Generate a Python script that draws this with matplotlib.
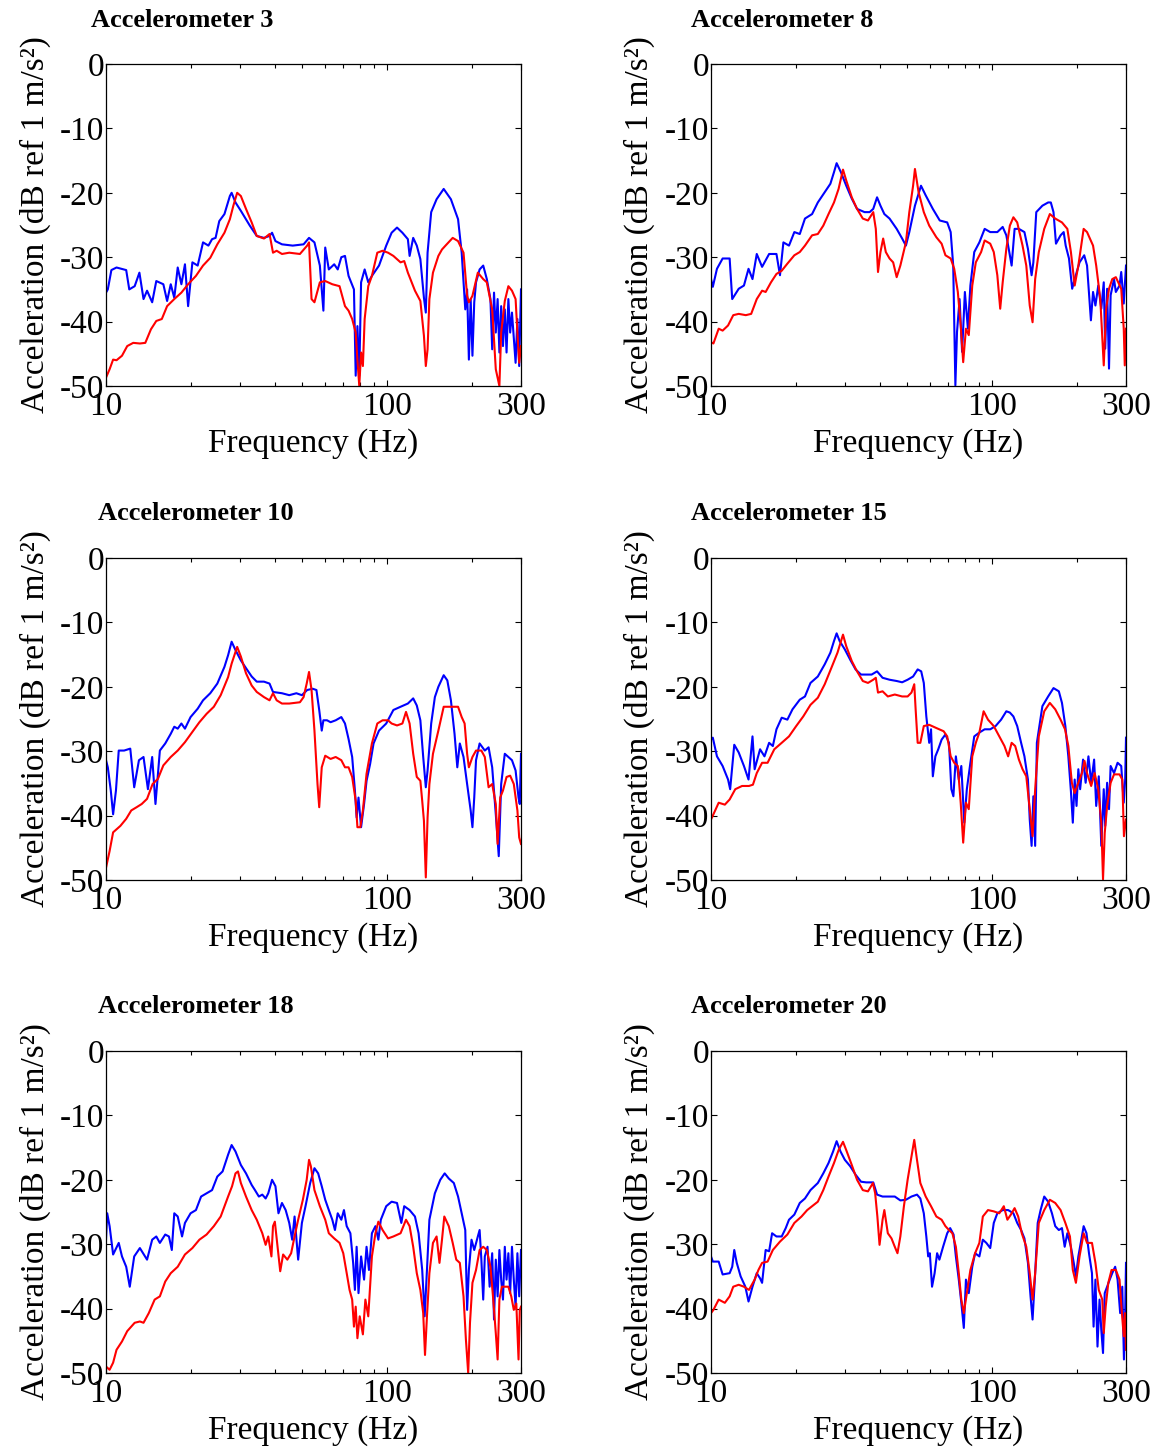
import numpy as np
import matplotlib
matplotlib.use("Agg")
import matplotlib.pyplot as plt

plt.rcParams['font.family'] = ['Liberation Serif', 'DejaVu Serif']
plt.rcParams['axes.unicode_minus'] = False

# ---------------- data: [frequency (Hz), acceleration (dB)] ----------------
acc3_blue = np.array([
    [10, -35.5], [10.15, -35], [10.45, -32], [10.9, -31.6], [11.8, -32], [12.1, -35], [12.65, -34.5],
    [13.15, -32.4], [13.6, -36.5], [14.0, -35.2], [14.6, -37], [15.1, -33.7], [16.0, -34.2], [16.5, -36.8],
    [17.0, -34.2], [17.5, -36.3], [18.0, -31.6], [18.55, -34.2], [19.1, -31.1], [19.6, -37.6], [20.3, -30.8],
    [21.2, -31.3], [22.15, -27.7], [23.15, -28.2], [23.85, -27.2], [24.55, -27], [25.3, -24.4], [26.4, -23.3],
    [27.6, -20.5], [28.0, -20], [28.9, -21.5], [30.2, -22.8], [32.5, -25.1], [34.4, -26.7], [36.5, -27],
    [38.2, -26.7], [39.0, -26.2], [40.1, -27.5], [42.3, -28], [46.2, -28.2], [50.5, -28], [52.8, -27],
    [55.2, -27.7], [57.7, -31.3], [59.4, -38.3], [60.3, -28.5], [62.1, -31.9], [64.9, -31.1], [66.8, -31.9],
    [68.8, -30], [70.9, -29.8], [73.0, -32.9], [76.3, -35], [77.4, -48.4], [78.5, -40.7], [79.7, -48.4],
    [80.9, -33.9], [83.3, -31.9], [85.8, -33.9], [88.4, -32.9], [93.7, -31.3], [99.4, -28.2], [103.9, -26.2],
    [108.6, -25.4], [113.5, -26.2], [118.7, -27.2], [120.4, -29.8], [124.0, -27], [127.7, -28.2], [131.5, -30.3],
    [135.4, -36.3], [137.5, -38.6], [139.5, -29.3], [143.7, -23], [150.2, -21], [159.2, -19.4], [168.9, -21],
    [179.1, -24.1], [184.5, -29.3], [190.0, -38.1], [192.9, -35], [195.7, -45.9], [198.6, -36.5], [201.5, -45.3],
    [204.5, -37], [207.5, -33.9], [213.7, -31.9], [220.1, -31.3], [226.7, -33.4], [233.5, -36.5], [236.9, -44.3],
    [240.5, -35.5], [244.0, -41.7], [247.7, -36.5], [251.3, -44.8], [255.0, -37.6], [258.8, -43.8], [262.7, -38.1],
    [266.5, -44.8], [270.5, -36.5], [274.5, -41.7], [278.6, -38.6], [287.0, -46.4], [291.3, -39.6], [295.6, -46.9],
    [300, -35]])
acc3_red = np.array([
    [10, -48.7], [10.3, -47.4], [10.6, -45.9], [10.9, -46], [11.4, -45.3], [11.9, -43.8], [12.5, -43.3],
    [13.2, -43.4], [13.8, -43.3], [14.45, -41.2], [15.1, -39.9], [15.8, -39.6], [16.5, -37.6], [17.5, -36.5],
    [18.55, -35.5], [19.6, -34.2], [20.9, -32.9], [22.15, -31.3], [23.5, -30.1], [24.9, -28], [26.4, -26.2],
    [27.6, -24.1], [28.4, -22], [29.3, -20], [30.2, -20.5], [31.5, -22.5], [33.0, -24.6], [34.4, -26.7],
    [36.5, -27.1], [38.2, -26.4], [39.3, -29.3], [40.5, -29], [42.3, -29.5], [44.9, -29.3], [49.0, -29.5],
    [52.0, -28.2], [52.8, -27.7], [53.9, -36.5], [55.2, -37], [57.7, -33.9], [60.3, -33.7], [63.9, -34.2],
    [67.8, -34.5], [70.9, -37.6], [73.0, -38.3], [75.2, -39.6], [77.4, -41.7], [78.5, -45.9], [79.7, -50],
    [80.9, -44.8], [82.1, -46.9], [83.3, -39.6], [85.8, -34.5], [88.4, -32.9], [92.4, -29.3], [96.5, -29],
    [100.9, -29.3], [105.4, -29.8], [111.8, -30.8], [115.2, -30.6], [118.7, -32.4], [125.8, -35.2], [131.5, -36.8],
    [135.4, -42.2], [137.5, -46.9], [139.5, -44.3], [141.6, -36.5], [145.8, -32.4], [152.4, -29.8], [157.0, -28.8],
    [161.6, -28.2], [171.4, -27], [179.1, -27.5], [187.3, -29.3], [192.9, -36], [195.7, -37], [201.5, -36],
    [210.6, -32.4], [220.1, -33.4], [226.7, -33.9], [236.9, -38.1], [244.0, -47.4], [251.3, -50], [255.0, -41.7],
    [262.7, -36.8], [270.5, -34.5], [278.6, -35.2], [287.0, -36.5], [291.3, -41.7], [295.6, -46.4], [300, -43.8]])

acc8_blue = np.array([
    [10, -33.4], [10.15, -34.6], [10.5, -31.8], [11.0, -30.2], [11.65, -30.2], [11.9, -36.5], [12.55, -34.9],
    [13.1, -34.4], [13.6, -31.8], [14.05, -33.4], [14.55, -29.5], [15.2, -31.5], [16.1, -29.5], [17.1, -29.5],
    [17.6, -32.8], [18.1, -27.7], [18.95, -28.2], [19.8, -26.1], [20.7, -26.4], [21.6, -24], [22.9, -23.3],
    [24.0, -21.5], [25.4, -19.9], [26.6, -18.6], [27.4, -16.8], [28.0, -15.4], [29.0, -16.8], [30.3, -18.9],
    [31.7, -20.9], [33.1, -22.5], [35.2, -23], [36.7, -23], [37.8, -22.5], [39.0, -20.7], [40.1, -22],
    [41.4, -23.3], [43.2, -24], [45.8, -25.6], [47.9, -27.1], [49.4, -28.2], [50.8, -26.1], [53.2, -22],
    [55.9, -18.9], [58.1, -20.4], [61.6, -22.5], [65.2, -24.3], [69.3, -24.6], [71.3, -26.1], [72.8, -31.3],
    [74.1, -49.9], [75.1, -41.6], [76.7, -36.5], [78.3, -44.7], [80.1, -35.4], [82.1, -41.1], [83.8, -34.4],
    [86.5, -29.2], [90.2, -27.7], [94.2, -25.6], [98.6, -26.1], [104.5, -26.1], [109.2, -25.3], [112.5, -26.6],
    [115.8, -29.7], [117.5, -31.3], [120.4, -25.6], [124.7, -25.6], [130.5, -26.1], [134.3, -28.7], [138.4, -32.8],
    [140.4, -30.8], [143.8, -23], [151.2, -22], [158.5, -21.5], [162, -21.5], [165.6, -23], [169, -27.9],
    [175.5, -26.6], [180, -26.1], [183, -28.2], [188, -30.2], [193, -34.9], [197, -33.4], [205, -30.8],
    [213, -29.7], [218, -31.3], [225, -39.8], [229, -35.4], [233.5, -37.5], [239, -34.4], [245, -38],
    [250, -33.9], [253, -44.2], [257, -34.9], [261, -47.3], [264.5, -35.9], [272, -33.4], [276, -35.4],
    [284.5, -34.4], [288.5, -32.3], [294.5, -37.2], [300, -31.3]])
acc8_red = np.array([
    [10, -43.2], [10.2, -43.4], [10.65, -41.1], [11.0, -41.4], [11.5, -40.6], [12.0, -39.0], [12.55, -38.8],
    [13.3, -39.0], [13.9, -38.8], [14.55, -36.5], [15.2, -35.2], [15.65, -35.4], [16.35, -33.9], [17.1, -32.6],
    [17.85, -32.1], [18.7, -31], [19.8, -29.7], [20.7, -29.2], [21.6, -28.2], [22.9, -26.6], [24.0, -26.4],
    [25.1, -25.1], [26.2, -23.3], [27.4, -21.5], [28.45, -19.4], [29.5, -16.4], [30.3, -18.1], [31.7, -20.7],
    [33.1, -22.5], [34.7, -24], [36.2, -24.3], [37.8, -23], [38.6, -25.6], [39.3, -32.3], [40.1, -29.2],
    [41.0, -27.1], [41.9, -29.2], [43.2, -30.2], [44.5, -30.8], [45.8, -33.1], [47.2, -31.3], [49.4, -27.7],
    [50.8, -23], [52.4, -18.9], [53.2, -16.3], [54.8, -19.9], [57.2, -23], [59.8, -25.1], [63.4, -26.9],
    [66.2, -27.9], [68.3, -29.7], [71.3, -30.2], [73.4, -31.8], [75.6, -35.4], [77.4, -40.6], [79.0, -46.3],
    [80.8, -41.1], [82.7, -42.1], [85.1, -34.4], [87.6, -30.8], [91.5, -29.2], [94.2, -27.4], [98.6, -27.9],
    [101.5, -29.2], [104.5, -32.8], [107, -38], [109.2, -33.9], [112.5, -28.7], [115.8, -25.1], [119.2, -23.8],
    [123, -24.6], [128.5, -28.2], [132.5, -31.3], [136.3, -37.5], [139.5, -40.1], [142.5, -33.4], [146.8, -29.2],
    [153.5, -25.6], [160.7, -23.3], [168, -24], [177.5, -24.6], [185.5, -25.6], [191, -29.2], [197, -34.4],
    [203, -31.3], [212, -25.6], [218, -26.1], [229, -28.2], [235, -31.3], [243, -36.5], [250, -46.8],
    [255, -38], [261, -34.9], [268, -33.4], [276, -33.1], [288.5, -34.9], [294.5, -41.1], [297, -46.8],
    [300, -41.1]])

acc10_blue = np.array([
    [10, -31.4], [10.15, -32.5], [10.4, -36.1], [10.6, -39.8], [10.85, -36.1], [11.1, -29.9], [11.6, -29.9],
    [12.2, -29.6], [12.6, -35.6], [13.1, -31.4], [13.6, -30.9], [14.1, -35.9], [14.6, -30.9], [15.0, -38.2],
    [15.55, -29.9], [16.25, -28.8], [17.0, -27.3], [17.5, -26.2], [18.0, -26.5], [18.55, -25.7], [19.1, -26.5],
    [20.0, -24.7], [21.2, -23.4], [22.15, -22.1], [23.5, -21.0], [24.9, -19.5], [26.4, -16.9], [27.2, -15.1],
    [28.0, -13.0], [28.9, -14.3], [30.2, -15.9], [31.5, -17.1], [33.0, -18.4], [34.4, -19.2], [36.5, -19.2],
    [38.2, -19.5], [39.3, -20.8], [42.3, -21.0], [44.9, -21.3], [47.6, -21.0], [49.8, -21.3], [52.0, -20.5],
    [54.4, -20.3], [56.1, -20.5], [57.4, -23.6], [58.6, -26.8], [59.4, -25.2], [61.2, -25.2], [63.0, -25.5],
    [65.7, -25.2], [68.8, -24.7], [70.9, -25.7], [73.0, -28.1], [75.2, -30.9], [76.9, -36.1], [78.0, -40.3],
    [79.2, -37.2], [80.9, -41.8], [82.9, -38.2], [84.6, -34.6], [87.1, -32.0], [89.6, -28.8], [93.7, -26.8],
    [99.4, -25.7], [105.4, -23.6], [111.8, -23.1], [118.7, -22.6], [124.0, -21.8], [127.7, -22.9], [131.5, -25.2],
    [134.6, -30.9], [137.5, -35.6], [139.5, -33.0], [143.7, -25.7], [148.1, -21.6], [152.4, -20.0], [159.2, -18.2],
    [164, -19.0], [168.9, -22.1], [174, -27.3], [178, -32.5], [181.7, -28.8], [187.3, -30.9], [192.9, -35.1],
    [198.6, -39.2], [201.5, -41.8], [204.5, -37.2], [207.5, -31.4], [213.7, -28.8], [223, -29.9], [230, -29.4],
    [236.9, -32.5], [244, -39.8], [250, -46.3], [255, -35.1], [262.7, -30.4], [270.5, -30.9], [278.6, -31.4],
    [287, -33.0], [294, -37.2], [297, -38.2], [300, -30.4]])
acc10_red = np.array([
    [10, -48.1], [10.3, -45.5], [10.6, -42.6], [11.25, -41.6], [11.8, -40.5], [12.3, -39.2], [12.85, -38.7],
    [13.4, -38.2], [14.0, -37.4], [14.65, -35.1], [15.3, -34.3], [16.0, -32.2], [17.0, -30.9], [18.0, -29.9],
    [19.1, -28.6], [20.3, -27.0], [21.5, -25.5], [22.8, -24.2], [24.2, -23.1], [25.6, -21.3], [27.2, -18.5],
    [28.0, -16.4], [29.3, -13.8], [30.2, -15.3], [31.5, -17.9], [33.0, -19.8], [34.4, -20.8], [36.5, -21.6],
    [38.2, -22.1], [39.3, -21.0], [40.5, -22.1], [42.3, -22.6], [44.9, -22.6], [49.0, -22.4], [50.5, -21.6],
    [51.8, -19.5], [52.8, -17.7], [53.9, -20.5], [55.2, -26.8], [56.6, -35.1], [57.4, -38.7], [58.6, -32.5],
    [60.3, -30.7], [63.0, -31.2], [65.7, -30.9], [68.8, -31.4], [70.9, -32.5], [73.0, -32.5], [75.2, -34.0],
    [77.4, -37.7], [78.5, -41.8], [80.4, -41.8], [82.1, -39.2], [84.6, -33.5], [88.4, -28.8], [92.4, -25.7],
    [96.5, -25.2], [100.9, -25.2], [103.9, -25.7], [108.6, -26.0], [113.5, -25.7], [116.9, -23.9], [120.4, -25.7],
    [124.0, -30.4], [127.7, -34.0], [131.5, -34.6], [133.5, -37.7], [135.4, -40.8], [137.5, -49.6], [139.5, -40.3],
    [141.6, -35.1], [145.8, -30.4], [152.4, -26.8], [159.2, -23.1], [164, -23.1], [171.4, -23.1], [179.1, -23.1],
    [184.5, -24.7], [189, -25.7], [192.9, -30.4], [195.7, -32.5], [201.5, -30.9], [207.5, -29.9], [216.8, -29.9],
    [223, -30.9], [230, -35.6], [236.9, -35.1], [244, -38.2], [247.7, -44.4], [253, -37.2], [258.8, -36.1],
    [266.5, -34.0], [274.5, -33.8], [282.8, -35.1], [291.3, -39.2], [295.6, -43.4], [300, -44.4]])

acc15_blue = np.array([
    [10, -28.2], [10.15, -27.9], [10.5, -30.8], [11.0, -32.3], [11.5, -34.4], [11.7, -35.9], [12.1, -29.0],
    [12.55, -30.2], [13.1, -32.3], [13.6, -34.4], [14.05, -27.7], [14.3, -32.8], [14.95, -29.7], [15.5, -30.8],
    [16.1, -28.7], [16.6, -29.2], [17.1, -26.6], [17.85, -24.8], [18.7, -25.1], [19.5, -23.5], [20.7, -22.0],
    [21.6, -21.5], [22.6, -19.4], [24.0, -18.4], [25.4, -16.5], [26.6, -14.7], [27.4, -12.9], [28.0, -11.7],
    [28.7, -12.9], [29.95, -14.2], [31.3, -15.8], [32.7, -17.3], [34.2, -18.1], [35.7, -18.1], [37.3, -18.1],
    [39.0, -17.6], [40.8, -18.6], [43.2, -18.9], [45.8, -19.1], [47.9, -19.3], [50.1, -18.9], [52.4, -18.4],
    [54.4, -17.3], [56.0, -17.6], [57.2, -19.4], [58.4, -24.6], [59.8, -28.7], [60.7, -26.6], [61.6, -33.9],
    [62.9, -30.8], [64.4, -29.7], [66.2, -28.2], [68.3, -27.4], [70.3, -28.7], [71.7, -35.9], [72.9, -37.0],
    [74.4, -30.8], [76.2, -34.4], [77.8, -32.3], [79.7, -41.1], [81.4, -35.9], [83.8, -31.8], [86.5, -27.7],
    [90.2, -27.1], [94.2, -26.6], [98.6, -26.6], [103, -26.1], [107.8, -25.1], [112.5, -23.8], [115.8, -24.0],
    [119.2, -24.6], [123, -26.1], [127, -28.7], [130.5, -30.8], [134.3, -34.4], [136.3, -40.6], [138.4, -44.7],
    [140.4, -37.0], [142.5, -44.7], [144.5, -28.7], [151.2, -23.0], [158.5, -21.5], [165.6, -20.2], [173, -20.7],
    [177.5, -22.5], [182.5, -26.1], [187, -30.8], [191, -36.2], [194, -41.1], [197, -34.4], [200, -38.5],
    [203, -32.8], [206, -35.9], [211, -31.3], [215.5, -34.9], [220.5, -30.8], [225.5, -34.9], [231, -31.3],
    [235, -38.5], [240, -33.9], [245, -44.7], [250, -35.9], [253, -41.6], [257, -34.9], [261, -39.0],
    [264.5, -32.3], [272, -33.4], [280, -31.8], [288.5, -32.3], [294.5, -38.0], [298, -34.4], [300, -27.9]])
acc15_red = np.array([
    [10, -40.6], [10.2, -39.8], [10.65, -38.0], [11.2, -38.3], [11.65, -37.5], [12.2, -35.9], [12.9, -35.4],
    [13.65, -35.4], [14.1, -35.2], [14.55, -33.4], [15.2, -31.8], [15.9, -31.8], [16.8, -29.7], [17.85, -28.7],
    [18.95, -27.7], [20.1, -26.1], [21.3, -24.6], [22.6, -22.8], [24.0, -21.7], [25.4, -19.6], [26.97, -16.8],
    [28.2, -14.7], [29.5, -11.9], [30.3, -13.7], [31.7, -16.0], [33.1, -17.6], [34.7, -19.1], [36.2, -19.4],
    [37.8, -18.9], [38.6, -18.6], [39.3, -20.9], [40.8, -20.7], [42.6, -21.5], [45.1, -21.2], [47.9, -21.5],
    [50.1, -21.5], [51.7, -20.9], [52.9, -19.6], [53.5, -23.5], [54.4, -28.7], [55.6, -28.7], [57.2, -26.1],
    [59.8, -25.9], [63.4, -26.4], [67.3, -26.9], [69.3, -27.7], [71.3, -30.8], [73.4, -31.8], [75.6, -32.3],
    [77.4, -38.0], [79.0, -44.2], [80.8, -38.0], [82.7, -39.0], [85.1, -30.8], [87.6, -28.7], [90.2, -27.1],
    [93.4, -23.8], [96.8, -25.1], [101.5, -26.1], [106.2, -27.7], [110.8, -29.2], [114.2, -30.8], [117.5, -28.7],
    [121, -29.2], [124.7, -31.3], [128.5, -32.8], [132.5, -33.9], [136.3, -39.0], [139.5, -43.2], [142.5, -35.9],
    [146.8, -27.7], [153.5, -23.8], [160.7, -22.5], [168, -23.5], [175.5, -25.1], [182, -26.6], [187, -29.2],
    [192.5, -34.9], [197, -36.5], [203, -34.9], [209, -33.4], [213.5, -31.5], [218, -33.4], [225.5, -35.4],
    [232, -33.4], [239, -35.9], [245, -41.1], [248.5, -49.9], [252, -42.7], [257, -38.5], [264.5, -34.9],
    [272, -33.6], [284.5, -33.6], [291, -34.4], [295, -43.2], [300, -40.6]])

acc18_blue = np.array([
    [10, -29.3], [10.1, -25.2], [10.3, -27.2], [10.6, -31.6], [11.1, -29.8], [11.4, -31.9], [11.8, -33.5],
    [12.15, -36.6], [12.6, -31.9], [13.2, -30.6], [14.0, -32.4], [14.6, -29.3], [15.1, -28.8], [15.55, -29.8],
    [16.25, -28.5], [16.75, -28.8], [17.15, -30.9], [17.5, -25.2], [18.0, -25.7], [18.65, -28.8], [19.1, -26.7],
    [20.0, -25.2], [20.9, -24.7], [21.8, -22.6], [22.8, -22.1], [23.85, -21.6], [24.9, -19.5], [26.0, -18.7],
    [27.2, -16.1], [28.0, -14.6], [28.9, -15.6], [30.2, -17.7], [31.5, -19.0], [33.0, -20.8], [33.9, -21.6],
    [35.0, -22.6], [36.0, -22.3], [37.0, -22.9], [37.8, -22.1], [39.0, -20.0], [40.1, -21.0], [41.1, -25.2],
    [42.3, -23.6], [43.6, -24.7], [44.9, -26.7], [46.0, -29.3], [46.9, -25.7], [48.3, -32.4], [49.8, -26.7],
    [51.3, -24.1], [53.3, -20.5], [55.2, -18.2], [56.9, -19.0], [58.6, -21.0], [60.3, -23.1], [62.1, -24.7],
    [63.9, -26.2], [65.3, -27.8], [66.8, -25.2], [68.8, -26.2], [70.3, -24.7], [71.9, -27.2], [74.1, -28.3],
    [75.8, -32.9], [76.9, -37.1], [78.0, -30.4], [79.2, -37.6], [80.9, -31.9], [82.9, -35.5], [84.6, -30.4],
    [86.3, -34.0], [88.4, -28.3], [91.0, -27.2], [93.2, -29.3], [95.1, -26.2], [99.4, -24.1], [103.9, -23.4],
    [108.6, -23.6], [112.5, -26.7], [115.2, -24.1], [120.4, -24.7], [125.8, -25.7], [129.6, -28.3], [133.5, -34.0],
    [136.2, -41.2], [138.8, -34.0], [141.6, -26.2], [148.1, -22.1], [154.8, -20.0], [160.5, -19.0], [166, -19.8],
    [173, -20.5], [179.1, -22.6], [184.5, -25.2], [190, -27.8], [192.9, -40.2], [195.7, -34.0], [200, -29.3],
    [204.5, -30.9], [210.6, -28.8], [213.7, -27.8], [216.8, -32.4], [220.1, -38.6], [223, -31.9], [228, -30.4],
    [232, -36.6], [236.9, -31.4], [240.5, -41.7], [244, -32.4], [247.7, -38.1], [251.3, -30.9], [255, -35.5],
    [258.8, -38.6], [262.7, -30.4], [266.5, -35.5], [270.5, -31.4], [274.5, -37.6], [278.6, -30.4], [282.8, -35.5],
    [287, -39.7], [291.3, -31.4], [295.6, -38.1], [300, -30.9]])
acc18_red = np.array([
    [10, -49.0], [10.3, -49.5], [10.6, -48.4], [10.9, -46.4], [11.4, -45.1], [11.9, -43.5], [12.65, -42.2],
    [13.2, -42.0], [13.6, -42.2], [14.2, -40.7], [14.9, -38.6], [15.55, -38.1], [16.25, -35.8], [17.0, -34.5],
    [18.0, -33.5], [19.1, -31.6], [20.3, -30.6], [21.5, -29.3], [22.8, -28.5], [24.2, -27.2], [25.6, -25.7],
    [27.2, -22.6], [28.1, -21.0], [28.9, -19.0], [29.5, -18.7], [30.2, -20.5], [31.5, -22.6], [33.0, -24.7],
    [34.4, -26.2], [36.0, -28.3], [37.0, -30.1], [37.8, -28.8], [38.8, -31.9], [39.3, -27.2], [39.9, -26.5],
    [40.8, -30.4], [41.7, -34.2], [42.7, -31.6], [44.2, -32.4], [45.6, -31.4], [46.9, -28.8], [48.3, -26.2],
    [50.2, -23.1], [51.8, -20.0], [52.8, -16.9], [53.6, -17.9], [55.2, -21.6], [57.7, -24.1], [60.3, -26.2],
    [62.1, -28.3], [64.9, -29.1], [67.8, -29.8], [69.9, -31.4], [71.9, -34.5], [73.6, -37.1], [75.2, -38.6],
    [76.3, -42.8], [77.4, -39.7], [78.5, -44.6], [80.0, -41.2], [82.1, -44.0], [83.8, -38.6], [85.8, -41.2],
    [88.4, -31.9], [91.0, -28.3], [93.2, -26.5], [96.5, -27.8], [100.9, -29.1], [105.4, -28.8], [111.8, -28.3],
    [116.9, -26.2], [120.4, -27.2], [124.0, -30.4], [127.7, -34.5], [131.5, -37.1], [134.6, -40.7], [136.6, -47.2],
    [138.8, -41.2], [141.6, -34.5], [145.8, -29.8], [150.2, -28.8], [153.8, -32.9], [157.0, -29.3], [160, -25.7],
    [166, -27.2], [171.4, -29.8], [176.5, -32.4], [181.7, -32.9], [187.3, -38.1], [191, -44.8], [194.6, -50],
    [197.5, -42.2], [201.5, -36.0], [207.5, -34.0], [213.7, -30.9], [220.1, -30.4], [226.7, -30.9], [233.5, -33.5],
    [239, -38.6], [244, -43.8], [247.7, -47.9], [251.3, -38.6], [256.5, -36.6], [262.7, -36.6], [270.5, -36.6],
    [277, -38.1], [282.8, -40.2], [288.7, -39.2], [294, -47.9], [297, -40.2], [300, -39.7]])

acc20_blue = np.array([
    [10, -31.9], [10.15, -32.7], [10.65, -32.7], [11.0, -34.7], [11.65, -34.5], [11.9, -33.5], [12.1, -30.9],
    [12.35, -32.9], [12.75, -35.0], [13.25, -36.6], [13.6, -38.9], [14.05, -36.6], [14.55, -34.5], [14.95, -35.3],
    [15.2, -36.0], [15.65, -30.9], [16.1, -31.1], [16.5, -28.3], [17.1, -28.8], [17.85, -28.8], [18.45, -27.5],
    [18.95, -26.2], [19.8, -25.4], [20.7, -23.6], [21.6, -22.9], [22.6, -21.6], [24.0, -20.5], [25.1, -19.0],
    [26.2, -17.4], [27.2, -15.6], [28.0, -14.0], [28.9, -15.6], [29.95, -16.9], [31.3, -17.9], [32.7, -19.2],
    [34.2, -20.3], [35.7, -20.4], [37.8, -20.4], [39.0, -22.3], [40.8, -22.6], [43.2, -22.6], [45.1, -22.6],
    [47.2, -23.2], [49.4, -23.1], [51.7, -22.6], [54.1, -22.3], [55.6, -22.9], [57.2, -25.2], [58.4, -28.8],
    [59.3, -31.9], [60.1, -31.4], [61.2, -36.6], [62.5, -34.5], [63.8, -31.4], [65.0, -32.4], [67.0, -30.4],
    [69.3, -28.3], [71.0, -27.5], [73.0, -28.5], [74.4, -31.9], [76.2, -35.5], [77.8, -39.1], [79.4, -43.0],
    [80.8, -35.5], [82.7, -37.6], [85.1, -33.5], [87.1, -31.4], [90.2, -31.9], [92.8, -29.3], [95.5, -29.8],
    [98.6, -30.6], [101.5, -26.7], [104.5, -25.2], [109.2, -24.7], [114.2, -24.7], [119.2, -25.2], [123, -26.7],
    [127, -27.8], [130.5, -29.1], [134.3, -32.9], [137.2, -38.1], [139.5, -41.7], [142.5, -34.5], [145.5, -26.7],
    [149, -24.7], [153.5, -22.6], [158.5, -23.4], [163.5, -25.2], [168, -27.2], [173, -27.8], [177.5, -27.5],
    [181.5, -30.4], [185.5, -28.3], [191, -30.4], [195.5, -32.9], [199, -35.0], [203, -31.9], [208, -29.3],
    [212, -27.2], [217, -28.3], [221.5, -31.4], [227, -34.5], [230, -42.8], [233.5, -35.5], [237.5, -45.9],
    [241.5, -38.6], [245, -43.3], [248.5, -46.9], [252, -37.6], [257, -36.6], [262.5, -35.5], [268, -34.5],
    [274.5, -33.5], [280, -35.5], [286, -40.7], [291, -36.6], [295, -47.9], [298, -40.7], [300, -32.9]])
acc20_red = np.array([
    [10, -40.7], [10.2, -40.2], [10.65, -38.6], [11.2, -39.1], [11.65, -38.1], [12.0, -36.6], [12.55, -36.3],
    [13.1, -36.6], [13.65, -37.1], [14.3, -35.5], [14.75, -34.0], [15.2, -32.9], [15.9, -32.7], [16.6, -30.9],
    [17.6, -29.6], [18.7, -28.5], [19.8, -26.7], [21.0, -25.7], [22.0, -24.7], [22.9, -24.1], [24.0, -23.4],
    [25.1, -21.6], [26.2, -19.5], [27.4, -17.4], [28.45, -15.4], [29.5, -14.1], [30.3, -15.4], [31.7, -17.7],
    [33.1, -20.0], [34.7, -21.6], [36.2, -21.8], [37.7, -20.5], [38.4, -22.1], [39.1, -25.7], [39.8, -30.1],
    [40.8, -26.2], [41.4, -24.7], [42.6, -28.3], [43.9, -29.1], [45.1, -30.4], [46.1, -31.4], [47.2, -28.8],
    [48.6, -24.1], [50.1, -20.0], [51.7, -16.4], [52.9, -13.8], [54.1, -16.9], [55.6, -20.5], [58.1, -22.6],
    [60.7, -24.1], [63.4, -25.7], [66.2, -26.2], [68.3, -27.2], [70.3, -27.8], [72.3, -28.3], [74.4, -30.4],
    [76.2, -34.5], [77.8, -38.6], [79.4, -40.7], [81.4, -37.6], [83.8, -34.0], [87.1, -31.4], [90.2, -29.8],
    [92.8, -25.7], [96.8, -24.7], [101.5, -24.9], [106.2, -25.2], [110.2, -24.1], [113.5, -26.2], [116.8, -25.4],
    [120.4, -24.4], [124, -25.7], [127.7, -28.3], [132.5, -30.4], [136.3, -34.5], [139.5, -38.6], [142.5, -34.5],
    [146.8, -26.7], [153.5, -24.7], [160.7, -23.1], [168, -23.6], [175.5, -24.7], [182.5, -26.7], [189.5, -28.8],
    [194, -34.0], [199, -36.0], [205, -31.9], [212, -28.3], [218, -29.8], [227, -29.8], [233.5, -32.9],
    [240, -37.1], [247, -38.6], [250, -43.8], [254, -39.7], [259.5, -36.0], [266.5, -34.0], [276, -34.0],
    [284.5, -35.5], [289.5, -40.2], [294.5, -44.3], [297.5, -40.7], [300, -46.4]])

titles = ["Accelerometer 3", "Accelerometer 8", "Accelerometer 10",
          "Accelerometer 15", "Accelerometer 18", "Accelerometer 20"]
blue_series = [acc3_blue, acc8_blue, acc10_blue, acc15_blue, acc18_blue, acc20_blue]
red_series = [acc3_red, acc8_red, acc10_red, acc15_red, acc18_red, acc20_red]

x_major = [10, 100, 300]
x_minor = [20, 30, 40, 50, 60, 70, 80, 90, 200]
y_ticks = [0, -10, -20, -30, -40, -50]

# ---------------- layout ----------------
W, H = 1159, 1452
fig = plt.figure(figsize=(W / 100, H / 100), dpi=100)

col_left = [106, 711]
ax_w = 415
row_top = [64, 558, 1051]
ax_h = 322
title_x = [[91, 691], [98, 691], [98, 691]]
title_base = [27, 520, 1013]
ylab_right = [51, 655]
xlab_top_offset = 364  # px below axes top

for i in range(6):
    r, c = divmod(i, 2)
    l = col_left[c] / W
    b = 1 - (row_top[r] + ax_h) / H
    ax = fig.add_axes([l, b, ax_w / W, ax_h / H])
    bl = blue_series[i]
    rd = red_series[i]
    ax.plot(bl[:, 0], bl[:, 1], color='#0000ff', lw=1.5)
    ax.plot(rd[:, 0], rd[:, 1], color='#ff0000', lw=1.5)
    ax.set_xscale('log')
    ax.set_xlim(10, 300)
    ax.set_ylim(-50, 0)
    ax.set_xticks(x_major)
    ax.set_xticklabels([str(v) for v in x_major])
    ax.set_xticks(x_minor, minor=True)
    ax.set_xticklabels([], minor=True)
    ax.set_yticks(y_ticks)
    ax.set_yticklabels([str(v) for v in y_ticks])
    ax.tick_params(which='both', direction='in', top=True, right=True, labelsize=24)
    ax.tick_params(which='major', length=4, width=0.8)
    ax.tick_params(which='minor', length=3, width=0.8)
    ax.tick_params(axis='x', which='major', pad=4)
    ax.tick_params(axis='y', which='major', pad=1.5)
    for s in ax.spines.values():
        s.set_linewidth(0.9)
    ax.set_xlabel("Frequency (Hz)", fontsize=24)
    ax.xaxis.set_label_coords(0.5, 1 - xlab_top_offset / ax_h)
    ax.set_ylabel("Acceleration (dB ref 1 m/s²)", fontsize=24)
    ax.yaxis.set_label_coords((ylab_right[c] - col_left[c]) / ax_w, 0.5)
    fig.text(title_x[r][c] / W, 1 - title_base[r] / H, titles[i],
             fontsize=19, fontweight='bold', ha='left', va='baseline')

fig.savefig("out.png", dpi=100)
